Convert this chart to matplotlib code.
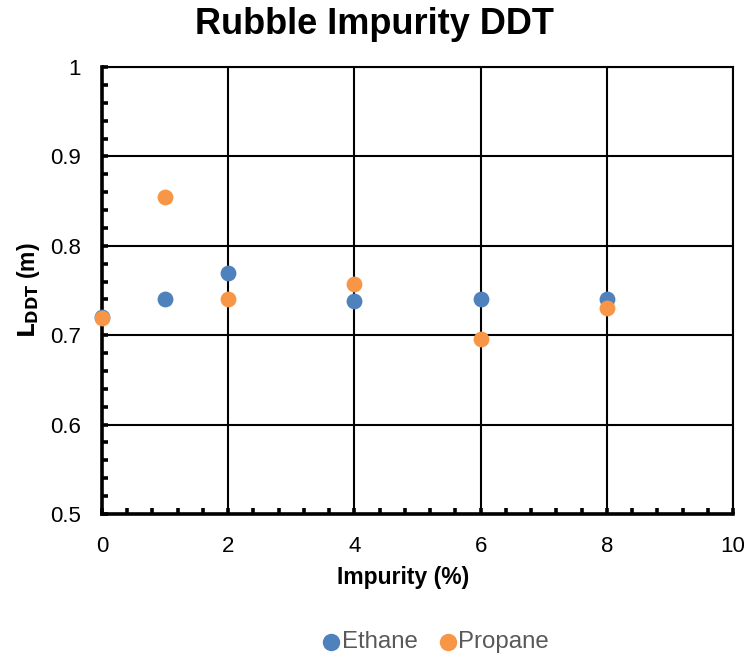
import matplotlib
matplotlib.use("Agg")
import matplotlib.pyplot as plt
from matplotlib.ticker import MultipleLocator

plt.rcParams['font.family'] = ['Liberation Sans', 'DejaVu Sans']

impurity = [0, 1, 2, 4, 6, 8]
ethane = [0.720, 0.741, 0.770, 0.738, 0.740, 0.740]
propane = [0.719, 0.855, 0.740, 0.757, 0.696, 0.730]

fig = plt.figure(figsize=(7.48, 6.6), dpi=100)
ax = fig.add_axes([102/748, 1 - 514/660, (733-102)/748, (514-67)/660])

ax.scatter(impurity, ethane, s=130, color='#4F81BD', zorder=6, label='Ethane',
           linewidths=0, clip_on=False)
ax.scatter(impurity, propane, s=130, color='#F79646', zorder=7, label='Propane',
           linewidths=0, clip_on=False)

ax.set_xlim(0, 10)
ax.set_ylim(0.5, 1.0)
ax.xaxis.set_major_locator(MultipleLocator(2))
ax.xaxis.set_minor_locator(MultipleLocator(0.4))
ax.yaxis.set_minor_locator(MultipleLocator(0.02))
ax.set_yticks([0.5, 0.6, 0.7, 0.8, 0.9, 1.0])
ax.set_yticklabels(['0.5', '0.6', '0.7', '0.8', '0.9', '1'])

ax.grid(True, which='major', color='black', linewidth=1.5, zorder=1)
ax.set_axisbelow(True)

for side in ['top', 'right']:
    ax.spines[side].set_linewidth(1.5)
for side in ['left', 'bottom']:
    ax.spines[side].set_linewidth(2.6)
    ax.spines[side].set_zorder(5)
    ax.spines[side].set_capstyle('projecting')

ax.tick_params(which='both', direction='in', color='black', labelsize=16)
ax.tick_params(which='both', length=4, width=2.6)
ax.tick_params(axis='x', which='both', top=False, pad=16)
ax.tick_params(axis='y', which='both', right=False, pad=15)

ax.set_xlabel('Impurity (%)', fontsize=16.5, fontweight='bold', va='center')
ax.xaxis.set_label_coords(0.477, -0.143)
ax.set_ylabel(r'$\mathbf{L_{DDT}}$ (m)', fontsize=16.5, fontweight='bold', va='center')
ax.yaxis.set_label_coords(-0.117, 0.5)
fig.text(0.5, 1 - 24/660, 'Rubble Impurity DDT', fontsize=26, fontweight='bold',
         ha='center', va='center')

leg = fig.legend(loc='center', bbox_to_anchor=(428/748, 1 - 642/660), ncol=2, frameon=False,
                 fontsize=17.3, handletextpad=-0.55, columnspacing=0.25, markerscale=1.1)
for t in leg.get_texts():
    t.set_color('#595959')

fig.savefig('out.png', dpi=100)
